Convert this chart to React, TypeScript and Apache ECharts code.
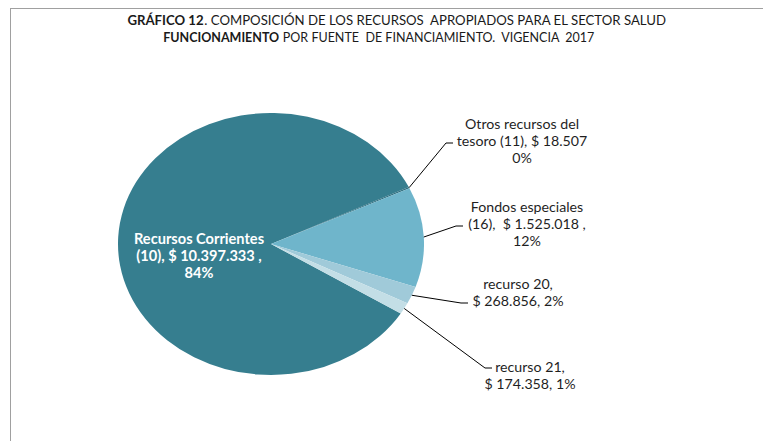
import React, { useEffect, useRef } from "react";
import * as echarts from "echarts";

// ---- data ----
const categories = [
  "Recursos Corrientes (10)",
  "Otros recursos del tesoro (11)",
  "Fondos especiales (16)",
  "recurso 20",
  "recurso 21",
];
const values = [10397333, 18507, 1525018, 268856, 174358];
const sliceColors = ["#367e8f", "#2f6f80", "#6fb5cb", "#a0cad9", "#c3dee6"];

const titleLine1Bold = "GRÁFICO 12";
const titleLine1Rest = ". COMPOSICIÓN DE LOS RECURSOS  APROPIADOS PARA EL SECTOR SALUD";
const titleLine2Bold = "FUNCIONAMIENTO";
const titleLine2Rest = " POR FUENTE  DE FINANCIAMIENTO.  VIGENCIA  2017";

// ---- layout ----
const W = 763;
const H = 441;
const CX = 271;
const CY = 244;
const R = 153;
const K = 131 / 153; // vertical squash of the pie (ellipse)
const START = -32;
const FONT = "Lato, 'Noto Sans', sans-serif";

// label centre x, centre y, leader end x, leader end y
const labelPlacement: number[][] = [
  [199, 255, 0, 0],
  [522, 140, 453, 143],
  [527, 223, 463, 226],
  [518, 292, 468, 303],
  [530, 375, 492, 368],
];
const ELBOW = 7;

const fmtNum = (v: number) => String(v).replace(/\B(?=(\d{3})+(?!\d))/g, ".");

function labelText(i: number, v: number, pct: number): string {
  const p = Math.round(pct) + "%";
  const s = fmtNum(v);
  switch (i) {
    case 0:
      return `Recursos Corrientes\n(10), $ ${s} ,\n${p}`;
    case 1:
      return `Otros recursos del\ntesoro (11), $ ${s}\n${p}`;
    case 2:
      return `Fondos especiales\n(16),  $ ${s} ,\n${p}`;
    case 3:
      return `recurso 20,\n$ ${s}, ${p}`;
    default:
      return `recurso 21,\n$ ${s}, ${p}`;
  }
}

export default function App() {
  const pieRef = useRef<HTMLDivElement>(null);
  const topRef = useRef<HTMLDivElement>(null);

  useEffect(() => {
    const pieChart = echarts.init(pieRef.current!, null, { renderer: "svg" });
    const topChart = echarts.init(topRef.current!, null, { renderer: "svg" });

    const data = categories.map((n, i) => ({ name: n, value: values[i] }));

    pieChart.setOption({
      animation: false,
      series: [
        {
          type: "pie",
          center: [CX, CY],
          radius: R,
          startAngle: START,
          clockwise: true,
          silent: true,
          label: { show: false },
          labelLine: { show: false },
          itemStyle: {
            color: (p: any) => sliceColors[p.dataIndex],
            borderWidth: 0,
          },
          data,
        },
      ],
    });

    topChart.setOption({
      animation: false,
      graphic: [
        {
          type: "line",
          shape: { x1: 10, y1: 8.5, x2: W, y2: 8.5 },
          style: { stroke: "#a0a0a0", lineWidth: 1 },
        },
        {
          type: "line",
          shape: { x1: 10.5, y1: 8, x2: 10.5, y2: H },
          style: { stroke: "#a0a0a0", lineWidth: 1 },
        },
        {
          type: "text",
          x: 397,
          y: 20,
          style: {
            text: `{b|${titleLine1Bold}}{n|${titleLine1Rest}}`,
            align: "center",
            verticalAlign: "middle",
            rich: {
              b: { fontFamily: FONT, fontSize: 13.2, fontWeight: "bold", fill: "#1a1a1a" },
              n: { fontFamily: FONT, fontSize: 13.2, fill: "#1a1a1a" },
            },
          },
        },
        {
          type: "text",
          x: 379,
          y: 37,
          style: {
            text: `{b|${titleLine2Bold}}{n|${titleLine2Rest}}`,
            align: "center",
            verticalAlign: "middle",
            rich: {
              b: { fontFamily: FONT, fontSize: 12.5, fontWeight: "bold", fill: "#1a1a1a" },
              n: { fontFamily: FONT, fontSize: 12.5, fill: "#1a1a1a" },
            },
          },
        },
      ],
      series: [
        {
          type: "pie",
          center: [CX, CY],
          radius: R,
          startAngle: START,
          clockwise: true,
          silent: true,
          avoidLabelOverlap: false,
          itemStyle: { color: "rgba(0,0,0,0)" },
          label: {
            show: true,
            position: "outside",
            fontFamily: FONT,
            fontSize: 14.2,
            lineHeight: 17,
            color: "#1f1f1f",
            formatter: (p: any) => labelText(p.dataIndex, p.value, p.percent),
          },
          labelLine: { show: true, length: 20, length2: 10, lineStyle: { color: "#000", width: 1 } },
          labelLayout: (p: any) => {
            const i = p.dataIndex;
            const lp = labelPlacement[i];
            const out: any = { x: lp[0], y: lp[1], align: "center", verticalAlign: "middle" };
            const pts = p.labelLinePoints;
            if (pts && i > 0) {
              const edge = [pts[0][0], CY + (pts[0][1] - CY) * K];
              out.labelLinePoints = [edge, [lp[2] - ELBOW, lp[3]], [lp[2], lp[3]]];
            }
            return out;
          },
          data: data.map((d, i) =>
            i === 0
              ? {
                  ...d,
                  label: { position: "inside", color: "#ffffff", fontWeight: "bold", fontSize: 14.6 },
                  labelLine: { show: false },
                }
              : d
          ),
        },
      ],
    });

    return () => {
      pieChart.dispose();
      topChart.dispose();
    };
  }, []);

  return (
    <div style={{ position: "fixed", left: 0, top: 0, width: W, height: H, background: "#fff" }}>
      <div
        ref={pieRef}
        style={{
          position: "absolute",
          left: 0,
          top: 0,
          width: W,
          height: H,
          transform: `scaleY(${K})`,
          transformOrigin: `${CX}px ${CY}px`,
        }}
      />
      <div ref={topRef} style={{ position: "absolute", left: 0, top: 0, width: W, height: H }} />
    </div>
  );
}
